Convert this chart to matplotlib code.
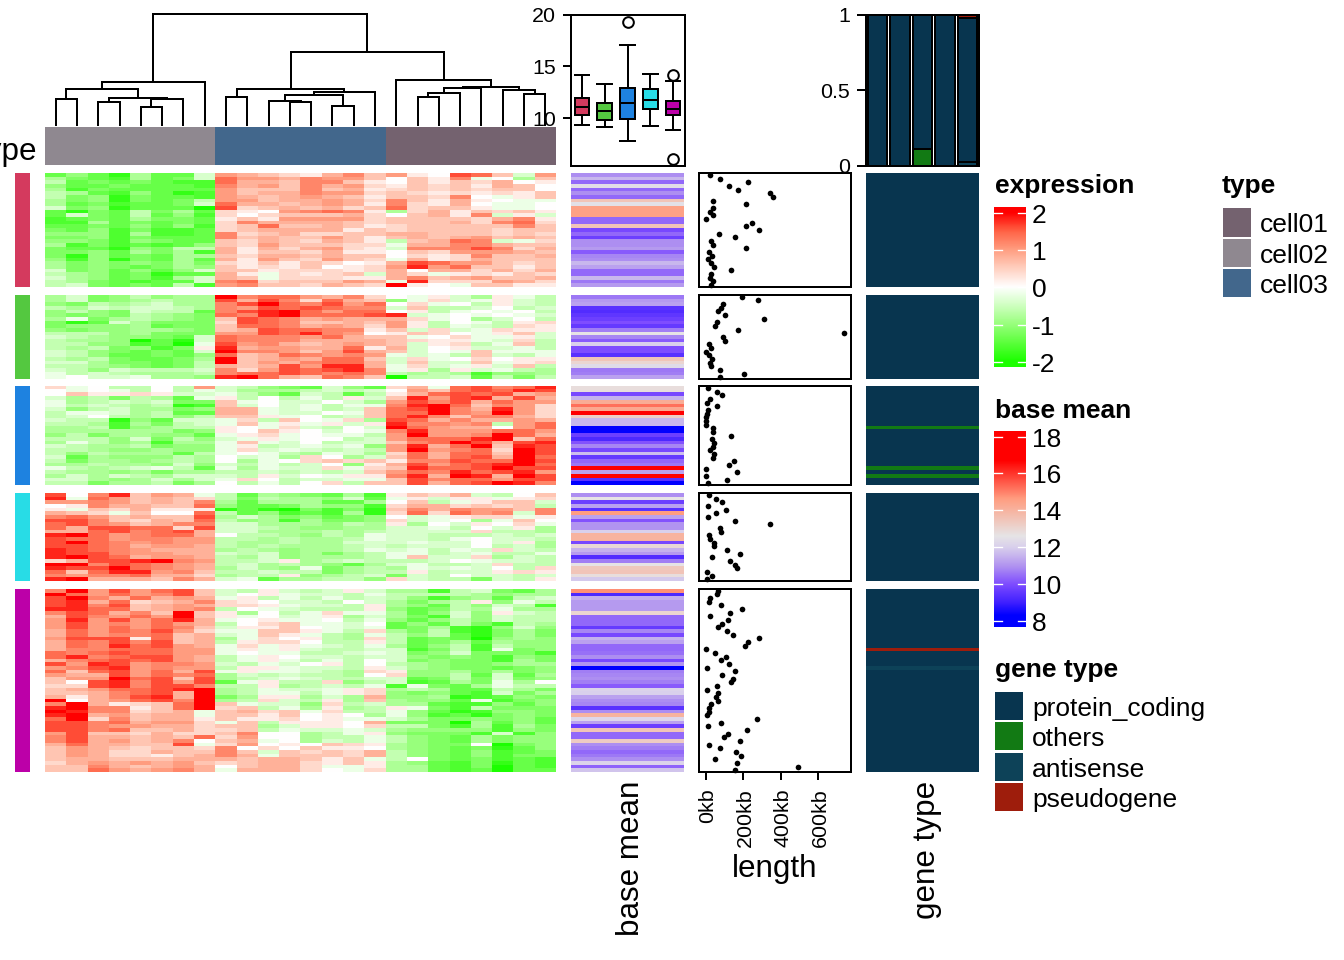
import numpy as np
import matplotlib
matplotlib.use("Agg")
import matplotlib.pyplot as plt
from matplotlib.colors import LinearSegmentedColormap, ListedColormap, Normalize
from matplotlib.patches import Rectangle
from matplotlib.transforms import ScaledTranslation

plt.rcParams['font.family'] = ['Liberation Sans', 'DejaVu Sans']

W, H = 1344, 960
# Heatmap cells: letters a..j are -0.2..-2.0, digits 0..9 are 0..1.8, X is 2.0
# columns: cell02 x8, cell03 x8, cell01 x8
heat_c1 = [
"gegidggb 54321463 510873b5","dfghdgfb 75546553 0316a0d3","cgfgfghh 74436631 03132401",
"eggfgggh 64536452 13231430","dhfggggg 53336341 23232330","cdghegih 53446552 32121213",
"cfeifggh 54345431 33260a13","dfeifgfc 55344542 631410aa","dgfhggfb 74434541 62140aa0",
"bfeigggj 82343423 72331aa0","gifgcfdg 21056761 d2413231","gbfgcgeh 20233342 03416b1b",
"hgfgdffg 13155552 33332461","hhdgfgfg 26444432 33342672","ggfgegeh 23733431 23333363",
"fgehfhhg 23444413 23333233","eeehdhhg 62342233 44333232","ffehfggg 63433531 34345343",
"eefhefgg 32432431 c3476ba2","dhfhghge 32533322 a4466433","fggiefcc 41424521 b6668624",
"ffegdfdh 41332411 03255543","fiegfgdd 32443433 02126334","eheifgdg 41532532 a4124333",
"dfefefdf 21313201 48755323","dfefgfde 31213012 59573313","bfegegeb 33122212 40442424",
"cdegfigg 41a2123b 42a12132","bdegfhdb 43a22211 46345334","cdfghggb 67233354 a9222542",
"cbfgfgch 56332432 X10a3311",
]
heat_c2 = [
"dbfecedd X6775462 0a1bd1ac","dbfedcdd 84862743 ea2ba1bc","efcdcbdd 68X76857 02a0c1bc",
"cdbcbbcd 65878766 b3ccb0cb","ecefbccg 689X7577 01ca0a0c","efefcdef 769X7778 9ba0a0ab",
"dafdcdef 38764544 42a0db0c","figbdfff 28763343 51c0ac12","feeedgff 37764542 51cabc21",
"efeeddef 34877661 3b2ba211","cccedfff 55879650 1320a13b","bcdeefgb 76665743 3a02aa1b",
"cddejgib 76664444 3211ab2c","cceehgja 85643454 3b12ca3c","cdcfehf1 94554471 4b01bbac",
"bcefgfgb X6653584 3b0a3aaa","bceggfge 73476565 abac3bca","cdcfggfd X3454773 b2a02011",
"bbdffgfc X3546774 b3bb3a12","ccdefgfc 43485994 a2ba1b3c","bcebcccb 62587896 a1d1bacd",
"acbcdddc 67787676 cdcdheed","a0bbadde 9X743763 jccbgcfc",
]
heat_c3 = [
"2a0cc0c5 bcefgbeg 24a78679","0a0ac0ca bdddcbcb 05378798","03112 1bb acegbcgc 14787845",
"bdcfcdga 1c0cac1b 39589484","adcbcbff 3a0bb0bd 58684755","acbcdcih 3b0bacaa 69X73652",
"becbddfe 44abacb3 78X64952","caabdcgg 44abb0a3 77X65X52","cb0cdcec 331a0cb3 79636642",
"bcciegbb a2c30a2d 87464454","ccdhdfcb a3a1a1b1 96656c57","ddchedcc 10a2bc0b X7544057",
"ddddddfe 1031 0b0a 69555775","ecfddeeg a12a0aac 5X556X74","cccebfce ba1a00cb 57779X37",
"dacedhdd a3ab0cbb 36 7X8489","bcddcfee a1cbabae 59 47X398","ccdeedee a2babcbc 5X567 2X8",
"cecdddgc a0acdabd 27477 3X8","bgdeeecd 0bad20db 37478 4X7","cfddedcd 0da02323 16687 7X8",
"ddcddebe bcacb0e1 48578 9X7","acdcbacg adabb2a2 39778 X88","cddedfdd ccbcbcb3 57697 895",
"dbdbcdbb bc1b0a11 6 94X94X8","bbdedbdb a20cbbaa 38677 588","ccfddcfd 0cac02c3 38478 X96",
]
heat_c4 = [
"80693 54a cgdefgdh 1324bc03","9a753432 cfcddebg a1b11a12","55653436 dgdddggd 03ca1 33b",
"01644337 eggfdeeh 24423 23c","1a324111 igijfhfi 36465536","432a3007 cgehghdi 27275 6b6",
"67534338 dbdfegfe 0ba122a1","88632437 cedhdffe 2ba0da30","78653466 bbdddecd 1d0b102a",
"74887728 bbcdeedd bbac0b1d","44786784 bbdddcdc bbbb2ccd","9X756774 0ccdecda bbcccbcb",
"87756655 ccdcddca bbca0bbc","8X765655 cddcddbb babb0b1d","88764554 cdcdddcb cbbb0cbd",
"98765444 dcdeddca bacab2bc","98865544 bcbedfdc aacbacca","9X874554 cdbedddc a3bb2dbc",
"24889X65 ccb1dcbc ccb0abbc","XX687654 cbdcdegd baccb2cc","9 88X7654 dbdeafdc dabab0c2",
"73799563 ccbccfdc c1cbb121","65667442 dcc1edcb fbc0bbcb","9X444364 bagddcce 2bccfbc1",
]
heat_c5 = [
"6X585783 bc1bcb1b ddhcbfgd","X7575683 b01abbca ccccdedd","8X647454 a1cacacb cehedgcb",
"89472346 210bbc0b dfdc1eac","89683454 221abbc1 degceb ch","99773456 c0abccc1 egfcdadd",
"68746 3X3 1d0ca2aa dgebe1bc","48657 5X3 1a0ba1db dfhbebcc","59585794 a01aa0ca egecebcc",
"58565754 c023aab0 gegcfhcd","58575763 b1130aba gfdhiebe","47576852 aa331ac2 dfchifdf",
"47566734 ba31acda cecgifdf","58881734 da201cd2 cgfgjede","47686834 c1220cc1 cgfdgdee",
"47697854 a2a1abca dgechcee","46677755 a1a1bccb bhfchafe","76787755 a0aaccba bfebfffh",
"79678854 ca10bbcb befefhef","46787854 ca1acac0 bfeffhdf","85985665 bcab01c0 cdeffedd",
"56895655 c11abbc1 bdeffgfe","73785748 a1aabcd2 1eedfdfe","54485767 dbcbccd0 2eecgbgd",
"355X7838 dcbabccb bgfcfbfe","30896858 ga1cc2ec bhgdfad0","22896886 cc1dcbca hafgdacc",
"345778 9X dcabba12 dcdggcdf","33467 84X dcaaca12 efeghbfd","41468 94X fd11dbd4 eedihgef",
"X0457 86X dc2bc1d3 deegahfe","6X41237X 3abbe2cb ddghhege","9X66137X 23cad1dc 1afhcfff",
"X9662 34a 3423a2cc aegiheef","9X453 44a 3313010d aehgifef","7X263441 3112 01aa bdffefeg",
"88674552 a3c11104 fffjdgeg","88655442 33db1102 ccfhdhdf","88673342 23cabbab deeeehef",
"58332422 3600dca1 efffhbhe","68443437 2500dcca cefgdfee","68453460 34a0dbca cefgdfee",
"47443 38a 25010321 deff0jfe","35432332 60203110 defgfige",
"35422433 63b32324 cefgehgf","35422134 64a33324 cefgehff","34433344 434 4313a c0fgfhgh",
"24545453 23442131 deghfigh","33643454 03442aa1 ddghfjgh","33754564 a4442 0a2 ddghgjgg",
]

basemean_c1 = [10.9,11.6,10.4,12.4,10.4,10.9,10.4,13.5,12.5,14.5,14.5,14.5,10.4,10.4,13.5,9.9,10.4,9.7,10.9,10.9,11.1,10.2,10.8,10.9,11.6,11.2,10.4,10.4,11.6,10.6,11.1]
basemean_c2 = [10.6,11.1,11.2,9.4,9.3,9.5,9.7,10,9.6,10.7,12.6,10.8,10.2,12,10,10,9.4,13.5,13,12.3,10.6,10.7,11.2]
basemean_c3 = [12.8,12.8,9.9,11.5,14.2,15.2,14.3,19.3,13.2,11.6,11.6,8.2,8.3,9.7,9.2,10.1,10.8,9.9,11.7,9.6,10.4,10.6,17.1,11.2,17,9.4,7.8]
basemean_c4 = [10.9,12.6,9.7,11.2,9.4,14.6,11.2,10.1,11,11,12,14,14,9.9,12.9,11.5,11.1,9.3,10.7,12.6,13.4,13.5,12.8,11.9]
basemean_c5 = [14.8,9.2,11.4,11.1,11.1,11.1,13,10.4,10.4,10.4,9.6,10.8,9.9,11.5,11.2,10.4,10.4,10.5,10.9,9.9,11,6.1,10.7,10.8,10.9,10.7,10.2,12.1,12,11.2,10.9,10.8,9.4,10.9,14,12.2,11.2,9.7,13.5,10.4,10.4,13.3,10.9,10.7,10.4,10.6,10.9,12.1,10.3,11.8]

length_c1 = [21,75,223,121,171,343,361,39,216,39,20,36,0,246,214,284,68,155,25,39,214,18,30,11,29,41,134,27,20,39,25]
length_c2 = [191,277,91,79,64,104,313,57,50,170,737,93,104,16,27,2,16,32,23,27,73,205,77]
length_c3 = [11,57,86,23,4,57,13,4,0,2,0,39,39,136,32,45,38,23,45,36,150,123,2,164,2,111,9]
length_c4 = [18,55,84,9,105,54,9,155,341,75,80,14,20,45,43,114,180,34,127,154,168,5,34,5]
length_c5 = [66,57,21,14,79,191,130,21,116,88,63,113,145,282,227,207,2,46,107,79,125,5,157,88,145,134,59,4,66,55,66,27,16,16,4,271,79,13,221,118,98,180,18,75,159,189,46,166,493,157]

# p protein_coding, o others, a antisense, s pseudogene
gene_c1 = "p"*31
gene_c2 = "p"*23
gene_c3 = "ppppppppppp"+"o"+"pppppppppp"+"o"+"p"+"o"+"pp"
gene_c4 = "p"*24
gene_c5 = "pppppppppppppppp"+"s"+"pppp"+"a"+"pppppppppppppppppppppppppppp"

heat_rows = [heat_c1, heat_c2, heat_c3, heat_c4, heat_c5]
base_rows = [basemean_c1, basemean_c2, basemean_c3, basemean_c4, basemean_c5]
len_rows = [length_c1, length_c2, length_c3, length_c4, length_c5]
gene_rows = [gene_c1, gene_c2, gene_c3, gene_c4, gene_c5]

# box statistics per cluster
box_low = [9.4, 9.2, 7.8, 9.3, 8.9]
box_q1 = [10.3, 9.8, 9.9, 10.9, 10.35]
box_med = [11.1, 10.7, 11.5, 11.8, 10.9]
box_q3 = [12.0, 11.5, 12.95, 12.85, 11.7]
box_high = [14.2, 13.3, 17.1, 14.3, 13.6]
box_out = [[], [], [19.3], [], [14.2, 6.1]]

# dendrogram merges: (left, right, height); ids below 24 are leaves, 24+n is merge n
merges = [(0,1,25.7),(2,3,23.3),(4,5,18.3),(26,6,26.3),(25,27,27),(24,28,36.3),(29,7,42.7),
          (8,9,27.7),(11,12,23),(10,32,24),(13,14,19),(33,34,29.7),(35,15,33),(31,36,36),
          (17,18,28),(38,19,31.7),(39,20,37),(22,23,30.7),(21,41,35),(40,42,38),(16,43,44.7),
          (37,44,73),(30,45,110.7)]

cluster_colors = ['#D43A5E', '#54C840', '#1E82E0', '#28DCE6', '#BC00A8']
type_colors = {'cell01': '#74626F', 'cell02': '#8F8890', 'cell03': '#42678C'}
gene_colors = {'p': '#08354F', 'o': '#127A14', 'a': '#0D4258', 's': '#9E1D0C'}
gene_names = {'p': 'protein_coding', 'o': 'others', 'a': 'antisense', 's': 'pseudogene'}

span = [(173, 287), (295, 379), (386, 485), (493, 581), (589, 772)]

def dec(s):
    s = s.replace(" ", "")
    assert len(s) == 24, s
    out = []
    for c in s:
        if c == 'X': out.append(2.0)
        elif c.isdigit(): out.append(int(c) * 0.2)
        else: out.append(-(ord(c) - 96) * 0.2)
    return out

expr_cmap = LinearSegmentedColormap.from_list('expr', [
    (0, '#1CFF00'), (.125, '#5CFF3C'), (.25, '#98FF7C'), (.375, '#CFFFC0'), (.5, '#FFFFFF'),
    (.625, '#FFD0C0'), (.75, '#FF9E81'), (.875, '#FF6245'), (1, '#FF0000')])
expr_norm = Normalize(-2, 2)
_bm = [(6, '#0000FF'), (8.3, '#0000FF'), (9, '#4020FF'), (10, '#7F4DFF'), (11, '#B295F0'), (12, '#D9D0EC'),
       (12.6, '#E6E4E6'), (14.6, '#FF9E81'), (16.7, '#FF0000'), (20, '#FF0000')]
base_norm = Normalize(6, 20)
base_cmap = LinearSegmentedColormap.from_list('bm', [((v-6)/14, c) for v, c in _bm], N=512)

fig = plt.figure(figsize=(W/96, H/96), dpi=96, facecolor='white')

def pax(x0, y0, x1, y1, **kw):
    return fig.add_axes([x0/W, 1-y1/H, (x1-x0)/W, (y1-y0)/H], **kw)

def ftext(x, y, s, **kw):
    fig.text(x/W, 1-y/H, s, **kw)

LW = 1.5
HX0, HX1 = 45, 556
BIG, TICK, LEG = 23.5, 16, 19.8

# dendrogram
ax = pax(HX0, 14, HX1, 125)
ax.set_xlim(0, 24); ax.set_ylim(0, 111); ax.axis('off')
nodes = {i: (i + .5, 0.0) for i in range(24)}
for n, (l, r, h) in enumerate(merges):
    xl, hl = nodes[l]; xr, hr = nodes[r]
    ax.plot([xl, xl, xr, xr], [hl, h, h, hr], color='k', lw=LW, solid_joinstyle='miter', clip_on=False)
    nodes[24 + n] = ((xl + xr) / 2, h)

# top annotation
ax = pax(HX0, 127, HX1, 165)
ax.set_xlim(0, 24); ax.set_ylim(0, 1); ax.axis('off')
for start, name in [(0, 'cell02'), (8, 'cell03'), (16, 'cell01')]:
    ax.add_patch(Rectangle((start, 0), 8, 1, fc=type_colors[name], ec='none'))
ftext(37, 152, 'type', ha='right', va='center', fontsize=BIG)

for k, (y0, y1) in enumerate(span):
    n = len(heat_rows[k])
    assert n == len(base_rows[k]) == len(len_rows[k]) == len(gene_rows[k]), (k, n)
    ax = pax(15, y0, 30, y1); ax.set_facecolor(cluster_colors[k]); ax.set_xticks([]); ax.set_yticks([])
    for s in ax.spines.values(): s.set_visible(False)

    ax = pax(HX0, y0, HX1, y1); ax.axis('off')
    ax.imshow(np.array([dec(r) for r in heat_rows[k]]), cmap=expr_cmap, norm=expr_norm, aspect='auto', interpolation='nearest')

    ax = pax(571, y0, 684, y1); ax.axis('off')
    ax.imshow(np.array(base_rows[k]).reshape(-1, 1), cmap=base_cmap, norm=base_norm, aspect='auto', interpolation='nearest')

    ax = pax(699, y0, 851, y1)
    ax.scatter(len_rows[k], np.arange(n) + .5, s=18, c='k', linewidths=0, clip_on=False, zorder=3)
    ax.set_ylim(n, 0)
    ax.set_xlim(-37.5, 776.7)
    ax.set_yticks([])
    for s in ax.spines.values(): s.set_linewidth(LW)
    if k == 4:
        ax.set_xticks([0, 200, 400, 600])
        ax.set_xticklabels(['0kb', '200kb', '400kb', '600kb'], rotation=90, fontsize=TICK)
        ax.tick_params(axis='x', length=6, width=LW, pad=6)
        shift = ScaledTranslation(2/96, 0, fig.dpi_scale_trans)
        for lab in ax.get_xticklabels():
            lab.set_transform(lab.get_transform() + shift)
    else:
        ax.set_xticks([])

    ax = pax(866, y0, 979, y1); ax.axis('off')
    keys = 'poas'
    ax.imshow(np.array([[keys.index(c)] for c in gene_rows[k]]),
              cmap=ListedColormap([gene_colors[c] for c in keys]), vmin=0, vmax=3, aspect='auto', interpolation='nearest')

ftext(631, 781, 'base mean', rotation=90, ha='center', va='top', fontsize=BIG)
ftext(775, 869, 'length', ha='center', va='center', fontsize=BIG)
ftext(927, 781, 'gene type', rotation=90, ha='center', va='top', fontsize=BIG)

# box panel
ax = pax(570.5, 14.5, 684.5, 165.5)
stats = [dict(med=box_med[i], q1=box_q1[i], q3=box_q3[i], whislo=box_low[i], whishi=box_high[i], fliers=box_out[i]) for i in range(5)]
bp = ax.bxp(stats, positions=[1, 2, 3, 4, 5], widths=.64, patch_artist=True, manage_ticks=False,
            boxprops=dict(linewidth=LW, edgecolor='k'), medianprops=dict(color='k', linewidth=LW),
            whiskerprops=dict(color='k', linewidth=LW), capprops=dict(color='k', linewidth=LW),
            flierprops=dict(marker='o', markersize=8, markerfacecolor='none', markeredgecolor='k', markeredgewidth=1.5),
            capwidths=.64)
for b, c in zip(bp['boxes'], cluster_colors):
    b.set_facecolor(c)
ax.set_xlim(.5, 5.5); ax.set_ylim(5.45, 20)
ax.set_xticks([]); ax.set_yticks([10, 15, 20]); ax.set_yticklabels(['10', '15', '20'], fontsize=TICK)
ax.tick_params(axis='y', length=6, width=LW, pad=5)
for s in ax.spines.values(): s.set_linewidth(LW)

# stacked gene type panel
ax = pax(866, 14.5, 979, 165.5)
order = 'oaps'
for i, g in enumerate(gene_rows):
    bottom = 0.0
    for key in order:
        frac = g.count(key) / len(g)
        if frac > 0:
            ax.bar(i + 1, frac, bottom=bottom, width=.85, color=gene_colors[key], edgecolor='k', linewidth=LW)
        bottom += frac
ax.set_xlim(.5, 5.5); ax.set_ylim(0, 1)
ax.set_xticks([]); ax.set_yticks([0, .5, 1]); ax.set_yticklabels(['0', '0.5', '1'], fontsize=TICK)
ax.tick_params(axis='y', length=7, width=LW, pad=5)
for s in ax.spines.values(): s.set_linewidth(LW)

# legends
def colorbar(y0, y1, lo, hi, cmap, norm, ticks, title, ty):
    ftext(995, ty, title, fontweight='bold', fontsize=LEG, va='center', ha='left')
    a = pax(994, y0, 1026, y1)
    a.imshow(np.linspace(hi, lo, 256).reshape(-1, 1), cmap=cmap, norm=norm, aspect='auto',
             extent=[0, 1, lo, hi], interpolation='bilinear')
    a.set_xlim(0, 1); a.set_ylim(lo, hi); a.axis('off')
    nudge = 3 * (hi - lo) / (y1 - y0)
    for t in ticks:
        a.plot([0, .25], [t, t], color='w', lw=1)
        a.plot([.75, 1], [t, t], color='w', lw=1)
        a.text(38/32, t - nudge, str(t), transform=a.get_yaxis_transform(), va='center', ha='left', fontsize=LEG)

colorbar(206.7, 367, -2.14, 2.16, expr_cmap, expr_norm, [2, 1, 0, -1, -2], 'expression', 186.5)
colorbar(430.7, 626.7, 7.69, 18.32, base_cmap, base_norm, [18, 16, 14, 12, 10, 8], 'base mean', 410.5)

lax = pax(0, 0, W, H); lax.set_xlim(0, W); lax.set_ylim(H, 0); lax.axis('off'); lax.patch.set_alpha(0)
ftext(1222, 186.5, 'type', fontweight='bold', fontsize=LEG, va='center', ha='left')
for name, (a, b) in zip(['cell01', 'cell02', 'cell03'], [(208, 237), (239, 267), (269, 297)]):
    lax.add_patch(Rectangle((1223, a), 28, b - a, fc=type_colors[name], ec='none'))
    ftext(1260, (a + b) / 2 + 3, name, fontsize=LEG, va='center', ha='left')
ftext(995, 669.5, 'gene type', fontweight='bold', fontsize=LEG, va='center', ha='left')
for key, (a, b) in zip('poas', [(692, 720), (722, 750), (753, 781), (783, 811)]):
    lax.add_patch(Rectangle((995, a), 28, b - a, fc=gene_colors[key], ec='none'))
    ftext(1032, (a + b) / 2 + 3, gene_names[key], fontsize=LEG, va='center', ha='left')

fig.savefig('out.png', dpi=96)
